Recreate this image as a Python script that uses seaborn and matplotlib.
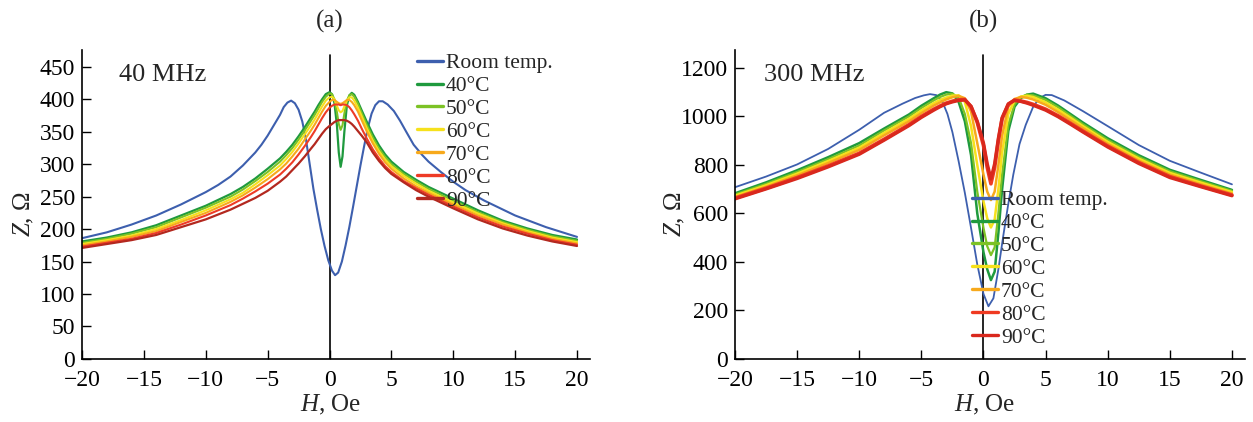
import numpy as np
import pandas as pd
import matplotlib
matplotlib.use("Agg")
import matplotlib.pyplot as plt
import seaborn as sns

# ---------------- data: panel (a) 40 MHz ----------------
H_a_room = [-20, -18, -16, -14, -12, -10, -9, -8, -7, -6.5, -6, -5.5, -5, -4.5, -4, -3.7, -3.4, -3.1,
            -2.8, -2.5, -2.2, -1.9, -1.6, -1.3, -1.0, -0.7, -0.4, -0.1, 0.2, 0.45, 0.7, 1.0, 1.3, 1.6,
            1.9, 2.2, 2.5, 2.8, 3.1, 3.4, 3.7, 4.0, 4.3, 4.7, 5.2, 5.7, 6.2, 6.8, 7.5, 8, 9, 10, 11,
            12.5, 15, 17.5, 20]
Z_a_room = [186, 195, 207, 221, 238, 257, 268, 281, 298, 308, 318, 330, 344, 360, 376, 388, 395, 398,
            394, 384, 366, 338, 300, 262, 230, 200, 174, 152, 136, 129, 133, 150, 175, 203,
            234, 266, 298, 328, 356, 378, 391, 397, 397, 392, 382, 367, 350, 330, 314, 304, 288, 273, 260,
            244, 221, 203, 188]

H_a = [-20, -18, -16, -14, -12, -10, -8, -7, -6, -5, -4, -3.5, -3, -2.5, -2, -1.5, -1.2, -0.9, -0.6,
       -0.3, 0, 0.2, 0.4, 0.6, 0.75, 0.9, 1.05, 1.2, 1.4, 1.6, 1.8, 2.0, 2.3, 2.6, 3, 3.5, 4, 4.5, 5,
       6, 7, 8, 10, 12, 14, 16, 18, 20]
Z_a_40 = [181, 187, 195, 206, 221, 236, 254, 265, 278, 293, 309, 319, 330, 343, 357, 372, 381, 391, 400,
          408, 411, 408, 394, 360, 318, 296, 312, 350, 390, 406, 410, 407, 396, 383, 366, 346, 329, 315, 304,
          288, 276, 265, 247, 229, 213, 201, 191, 184]
Z_a_50 = [179, 185, 193, 203, 218, 233, 250, 261, 274, 288, 304, 314, 325, 338, 352, 367, 376, 386, 396,
          404, 409, 408, 400, 380, 362, 353, 360, 378, 398, 406, 408, 404, 393, 379, 361, 341, 324, 311, 300,
          285, 273, 262, 244, 226, 211, 199, 189, 182]
Z_a_60 = [177, 183, 190, 200, 214, 229, 246, 256, 269, 283, 298, 308, 319, 332, 346, 360, 369, 379, 389,
          398, 403, 404, 400, 390, 383, 380, 382, 389, 398, 403, 403, 398, 387, 374, 356, 336, 320, 307, 297,
          282, 270, 259, 241, 224, 209, 197, 187, 180]
Z_a_70 = [175, 181, 188, 197, 211, 225, 242, 252, 264, 277, 292, 301, 312, 324, 338, 352, 361, 371, 381,
          390, 396, 399, 399, 396, 394, 393, 394, 396, 399, 399, 396, 391, 381, 368, 351, 332, 316, 303, 293,
          278, 266, 256, 238, 221, 207, 195, 185, 178]
Z_a_80 = [173, 179, 185, 194, 207, 221, 237, 247, 258, 270, 284, 293, 303, 315, 328, 342, 351, 361, 371,
          380, 387, 390, 392, 392, 392, 391, 392, 392, 391, 388, 383, 377, 367, 355, 340, 323, 309, 297, 288,
          274, 263, 253, 235, 218, 204, 193, 183, 176]
Z_a_90 = [171, 177, 183, 191, 203, 215, 230, 239, 248, 259, 273, 281, 291, 301, 312, 324, 331, 339, 347,
          354, 359, 362, 365, 367, 368, 368, 368, 368, 367, 365, 362, 358, 351, 344, 334, 318, 305, 294, 285,
          272, 260, 250, 232, 215, 201, 190, 181, 174]

# ---------------- data: panel (b) 300 MHz ----------------
H_b_room = [-20, -17.5, -15, -12.5, -10, -8, -6.5, -5.5, -4.8, -4.3, -3.8, -3.3, -2.9, -2.5, -2, -1.5,
            -1, -0.5, 0, 0.4, 0.8, 1.2, 1.6, 2, 2.4, 2.9, 3.4, 4, 4.5, 5, 5.5, 6.5, 8, 10, 12.5,
            15, 17.5, 20]
Z_b_room = [708, 752, 802, 866, 945, 1015, 1053, 1076, 1087, 1092, 1088, 1060, 1010, 935, 815, 685,
            540, 390, 268, 217, 250, 370, 510, 640, 760, 886, 965, 1040, 1075, 1089, 1088, 1066, 1022, 960, 882,
            817, 768, 720]

H_b = [-20, -17.5, -15, -12.5, -10, -8, -6, -5, -4, -3.5, -3, -2.5, -2, -1.5, -1, -0.5, 0, 0.3, 0.6,
       0.9, 1.2, 1.5, 2, 2.5, 3, 3.5, 4, 5, 6, 7, 8, 10, 12.5, 15, 17.5, 20]
Z_b_40 = [683, 728, 778, 832, 890, 950, 1008, 1044, 1075, 1090, 1100, 1095, 1060, 980, 840, 600, 440, 370, 325,
          360, 520, 700, 940, 1040, 1075, 1090, 1094, 1075, 1045, 1010, 975, 910, 840, 780, 738, 697]
Z_b_50 = [678, 722, 771, 824, 880, 942, 1000, 1035, 1066, 1080, 1090, 1094, 1078, 1010, 890, 690, 540, 465, 428,
          460, 600, 760, 965, 1050, 1080, 1090, 1087, 1068, 1038, 1003, 968, 903, 833, 774, 733, 693]
Z_b_60 = [673, 716, 764, 816, 871, 932, 990, 1024, 1055, 1068, 1078, 1086, 1087, 1060, 960, 800, 650, 580, 542,
          575, 700, 850, 1010, 1065, 1082, 1085, 1080, 1058, 1028, 995, 960, 895, 826, 767, 727, 688]
Z_b_70 = [668, 710, 757, 808, 862, 922, 980, 1014, 1045, 1058, 1070, 1079, 1085, 1075, 1020, 890, 760, 690, 655,
          690, 800, 920, 1040, 1072, 1080, 1077, 1070, 1048, 1018, 985, 952, 887, 818, 760, 720, 682]
Z_b_80 = [663, 704, 748, 796, 848, 906, 966, 1000, 1030, 1043, 1055, 1063, 1069, 1070, 1040, 975, 880, 790, 722,
          790, 900, 990, 1050, 1068, 1064, 1058, 1050, 1030, 1003, 972, 940, 878, 810, 752, 713, 676]
Z_b_90 = [660, 701, 744, 792, 844, 902, 962, 996, 1026, 1040, 1052, 1060, 1066, 1068, 1042, 980, 890, 805, 742,
          805, 910, 995, 1052, 1066, 1062, 1055, 1046, 1026, 999, 968, 936, 874, 806, 748, 710, 673]

labels = ["Room temp.", "40°C", "50°C", "60°C", "70°C", "80°C", "90°C"]
colors_a = ["#3d5fae", "#1f9a3e", "#7cc225", "#f6e11c", "#f7a91c", "#ee3b26", "#b3281f"]
colors_b = ["#3d5fae", "#1f9a3e", "#7cc225", "#f6e11c", "#f7a91c", "#ef3a22", "#d9281d"]
xticks = [-20, -15, -10, -5, 0, 5, 10, 15, 20]
yticks_a = list(range(0, 451, 50))
yticks_b = list(range(0, 1201, 200))

# ---------------- style ----------------
sns.set_style("ticks")
plt.rcParams["font.family"] = ["Liberation Serif", "DejaVu Serif"]
plt.rcParams["mathtext.fontset"] = "custom"
plt.rcParams["mathtext.rm"] = "Liberation Serif"
plt.rcParams["mathtext.it"] = "Liberation Serif:italic"
plt.rcParams["axes.unicode_minus"] = True

W, Hpx = 1253, 422
fig = plt.figure(figsize=(W / 100, Hpx / 100), dpi=100)

def fx(px):
    return px / W

def fy(py):
    return (Hpx - py) / Hpx

ax_a = fig.add_axes([fx(82), fy(358.9), fx(590) - fx(82), fy(50) - fy(358.9)])
ax_b = fig.add_axes([fx(735), fy(358.9), fx(1245) - fx(735), fy(50) - fy(358.9)])

series_a = [(H_a_room, Z_a_room)] + [(H_a, z) for z in (Z_a_40, Z_a_50, Z_a_60, Z_a_70, Z_a_80, Z_a_90)]
series_b = [(H_b_room, Z_b_room)] + [(H_b, z) for z in (Z_b_40, Z_b_50, Z_b_60, Z_b_70, Z_b_80, Z_b_90)]
lw_a = [1.5, 1.6, 1.5, 1.5, 1.5, 1.5, 1.6]
lw_b = [1.3, 1.8, 1.6, 1.8, 1.8, 2.6, 2.4]

for ax, series, cols, lws in ((ax_a, series_a, colors_a, lw_a), (ax_b, series_b, colors_b, lw_b)):
    for (h, z), lab, c, lw in zip(series, labels, cols, lws):
        df = pd.DataFrame({"H": h, "Z": z})
        sns.lineplot(data=df, x="H", y="Z", ax=ax, color=c, lw=lw, label=lab,
                     estimator=None, sort=False)

for ax, ymax, yt in ((ax_a, 476, yticks_a), (ax_b, 1274, yticks_b)):
    ax.set_xlim(-20, 21.05)
    ax.set_ylim(0, ymax)
    ax.set_xticks(xticks)
    ax.set_yticks(yt)
    ax.axvline(0, ymin=0, ymax=0.984, color="black", lw=1.2, zorder=1)
    for s in ("top", "right"):
        ax.spines[s].set_visible(False)
    for s in ("left", "bottom"):
        ax.spines[s].set_linewidth(1.2)
        ax.spines[s].set_color("black")
    ax.tick_params(direction="in", length=6.5, width=1.0, labelsize=17, pad=5, colors="black")
    ax.tick_params(axis="x", pad=8)
    ax.set_xlabel(r"$H$, Oe", fontsize=18)
    ax.set_ylabel(r"$Z$, Ω", fontsize=18)
    ax.xaxis.set_label_coords(0.49, -0.11)
    ax.get_legend().remove()

ax_a.yaxis.set_label_coords(-0.09, 0.47)
ax_b.yaxis.set_label_coords(-0.095, 0.47)

ax_a.text(0, (358.9 - 21) / 308.9, "(a)", transform=ax_a.get_xaxis_transform(), fontsize=18,
          ha="center", va="center")
ax_b.text(0, (358.9 - 21) / 308.9, "(b)", transform=ax_b.get_xaxis_transform(), fontsize=18,
          ha="center", va="center")

fig.text(fx(119), fy(75), "40 MHz", fontsize=19, ha="left", va="center")
fig.text(fx(764), fy(75), "300 MHz", fontsize=19, ha="left", va="center")

def add_legend(cols, x0, ytop):
    handles = [plt.Line2D([], [], color=c, lw=2.4) for c in cols]
    return fig.legend(handles, labels, loc="upper left", bbox_to_anchor=(fx(x0), fy(ytop)),
                      frameon=False, fontsize=15.5, handlelength=1.2, handletextpad=0.15,
                      labelspacing=0.135, borderpad=0, borderaxespad=0)

add_legend(colors_a, 417, 53)
add_legend(colors_b, 972, 190)

fig.savefig("out.png", dpi=100)
